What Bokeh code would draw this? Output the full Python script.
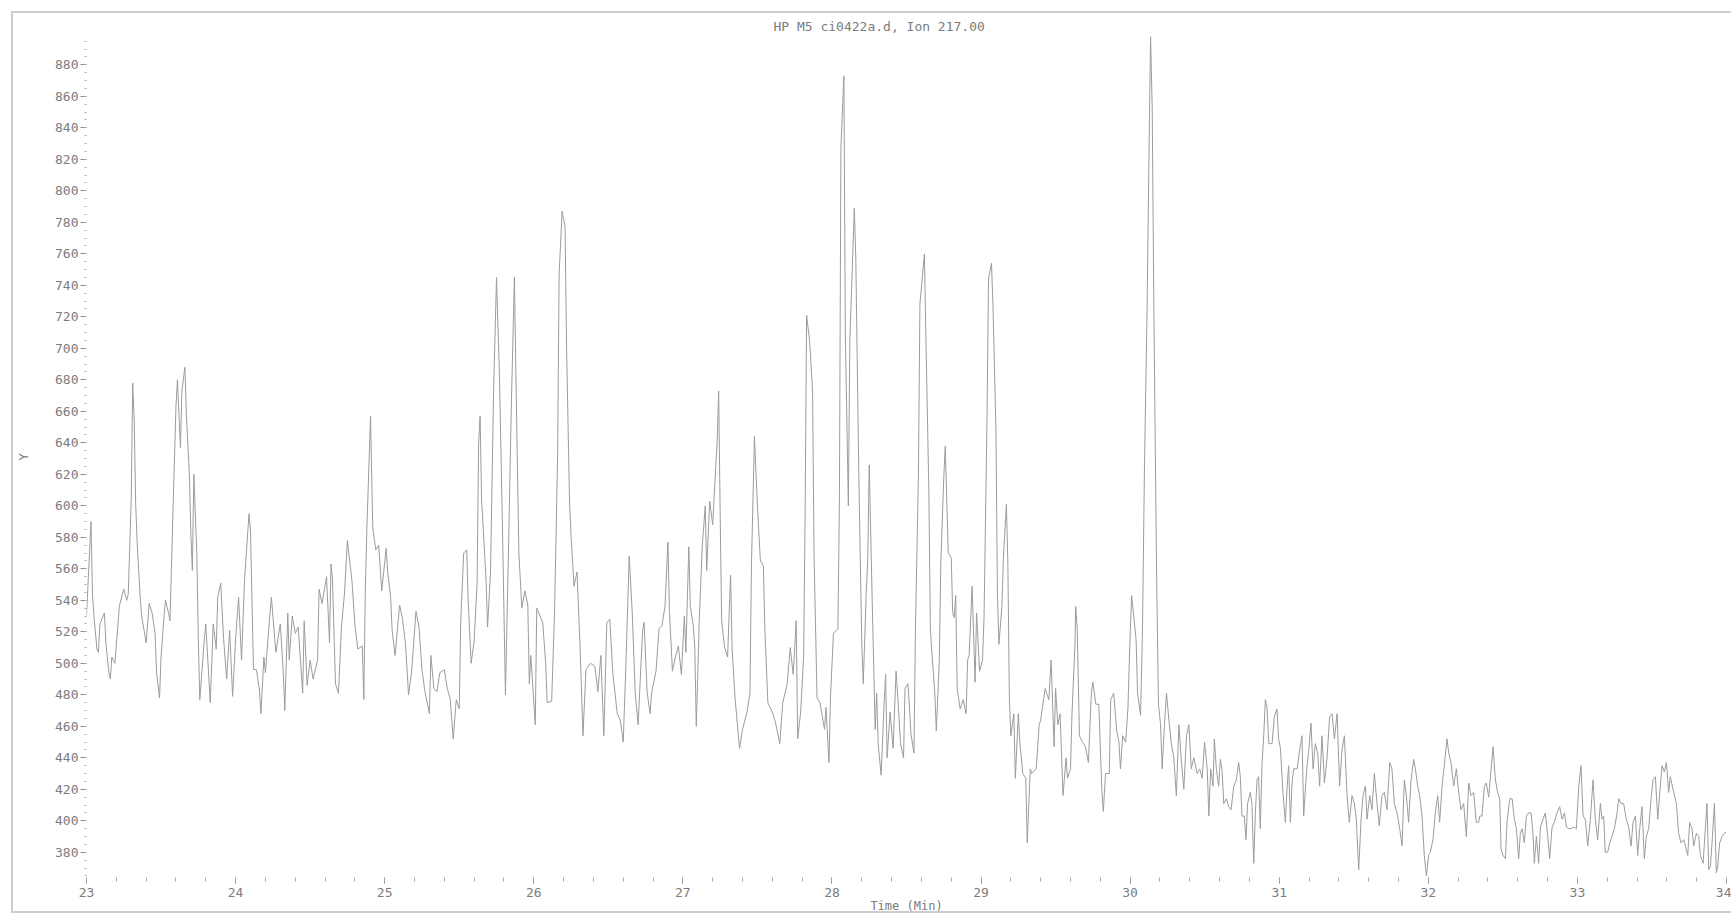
from bokeh.plotting import figure
from bokeh.models import SingleIntervalTicker, Range1d
from bokeh.embed import file_html
from bokeh.resources import INLINE

title_text = "HP M5 ci0422a.d, Ion 217.00"
x_label = "Time (Min)"
y_label = "Y"

# ---- trace (time in min, abundance) ----
t_23_25 = [
    23.00, 23.03, 23.04, 23.05, 23.07, 23.08, 23.09, 23.12, 23.13, 23.15,
    23.16, 23.17, 23.19, 23.21, 23.22, 23.24, 23.25, 23.27, 23.28, 23.30,
    23.31, 23.32, 23.33, 23.34, 23.36, 23.37, 23.40, 23.41, 23.42, 23.44,
    23.46, 23.47, 23.49, 23.50, 23.52, 23.53, 23.55, 23.56, 23.58, 23.60,
    23.61, 23.63, 23.64, 23.66, 23.67, 23.69, 23.70, 23.71, 23.72, 23.74,
    23.75, 23.76, 23.79, 23.80, 23.83, 23.85, 23.87, 23.88, 23.90, 23.92,
    23.94, 23.96, 23.98, 24.00, 24.02, 24.04, 24.06, 24.09, 24.10, 24.12,
    24.14, 24.16, 24.17, 24.19, 24.20, 24.22, 24.24, 24.27, 24.30, 24.32,
    24.33, 24.35, 24.36, 24.38, 24.40, 24.42, 24.45, 24.46, 24.48, 24.50,
    24.52, 24.55, 24.56, 24.58, 24.61, 24.63, 24.64, 24.65, 24.67, 24.69,
    24.71, 24.73, 24.75, 24.77, 24.78, 24.80, 24.82, 24.85]
v_23_25 = [
    530, 590, 544, 530, 509, 507, 525, 532, 513, 494,
    490, 504, 500, 523, 536, 544, 547, 540, 544, 604,
    678, 654, 601, 576, 542, 530, 513, 525, 538, 532,
    519, 494, 478, 504, 530, 540, 532, 527, 597, 663,
    680, 637, 673, 688, 658, 620, 582, 559, 620, 570,
    515, 477, 515, 525, 475, 525, 509, 542, 551, 515,
    490, 521, 479, 515, 542, 502, 553, 595, 584, 496,
    496, 483, 468, 504, 494, 519, 542, 507, 525, 494,
    470, 532, 502, 530, 519, 523, 481, 527, 486, 502,
    490, 502, 547, 538, 555, 513, 563, 553, 487, 481,
    523, 544, 578, 561, 553, 525, 509, 511]

t_25_27 = [
    24.86, 24.87, 24.88, 24.905, 24.92, 24.94, 24.96, 24.98, 25.01, 25.02,
    25.04, 25.05, 25.07, 25.10, 25.12, 25.14, 25.16, 25.18, 25.21, 25.23,
    25.25, 25.27, 25.30, 25.31, 25.33, 25.35, 25.37, 25.40, 25.42, 25.44,
    25.46, 25.48, 25.50, 25.51, 25.53, 25.55, 25.56, 25.58, 25.60, 25.62,
    25.63, 25.64, 25.65, 25.68, 25.69, 25.71, 25.73, 25.75, 25.77, 25.79,
    25.81, 25.83, 25.85, 25.87, 25.88, 25.90, 25.92, 25.94, 25.96, 25.97,
    25.98, 26.01, 26.02, 26.06, 26.08, 26.09, 26.12, 26.14, 26.16, 26.17,
    26.19, 26.21, 26.22, 26.24, 26.25, 26.27, 26.29, 26.31, 26.33, 26.35,
    26.38, 26.41, 26.43, 26.45, 26.47, 26.49, 26.51, 26.53, 26.56, 26.58,
    26.60, 26.62, 26.64, 26.66, 26.68, 26.70, 26.73, 26.74, 26.76, 26.78]
v_25_27 = [
    477, 546, 584, 657, 586, 572, 575, 546, 573, 558,
    542, 521, 505, 537, 528, 512, 480, 494, 533, 523,
    496, 482, 468, 505, 484, 482, 494, 496, 484, 477,
    452, 477, 471, 526, 570, 572, 540, 500, 514, 551,
    639, 657, 604, 553, 523, 558, 671, 745, 682, 586,
    480, 570, 666, 745, 685, 570, 535, 546, 537, 487,
    505, 461, 535, 526, 500, 475, 476, 535, 632, 747,
    787, 777, 701, 602, 581, 549, 558, 512, 454, 496,
    500, 498, 482, 505, 454, 526, 528, 494, 468, 464,
    450, 505, 568, 533, 482, 461, 521, 526, 482, 468]

t_27_29 = [
    26.79, 26.82, 26.84, 26.86, 26.88, 26.90, 26.91, 26.93, 26.95, 26.97,
    26.99, 27.01, 27.02, 27.04, 27.05, 27.07, 27.08, 27.09, 27.11, 27.13,
    27.15, 27.16, 27.18, 27.20, 27.21, 27.23, 27.24, 27.25, 27.26, 27.28,
    27.30, 27.32, 27.33, 27.35, 27.38, 27.40, 27.43, 27.45, 27.46, 27.48,
    27.50, 27.52, 27.54, 27.55, 27.57, 27.60, 27.62, 27.65, 27.67, 27.70,
    27.72, 27.74, 27.76, 27.77, 27.79, 27.81, 27.82, 27.83, 27.85, 27.87,
    27.88, 27.90, 27.92, 27.95, 27.96, 27.98, 27.99, 28.01, 28.04, 28.05,
    28.06, 28.08, 28.09, 28.11, 28.12, 28.15, 28.16, 28.18, 28.20, 28.21,
    28.23, 28.24, 28.25, 28.27, 28.29, 28.30, 28.31, 28.33, 28.35, 28.36,
    28.37, 28.39, 28.41, 28.43, 28.44, 28.46, 28.48, 28.49, 28.51, 28.53,
    28.55, 28.56, 28.58, 28.59, 28.62, 28.63, 28.65]
v_27_29 = [
    481, 495, 522, 524, 536, 577, 533, 495, 504, 511,
    493, 530, 507, 574, 536, 524, 510, 460, 527, 574,
    600, 559, 603, 588, 606, 641, 673, 597, 527, 510,
    504, 556, 510, 478, 446, 458, 469, 481, 562, 644,
    600, 565, 562, 522, 475, 469, 463, 449, 475, 487,
    510, 493, 527, 452, 469, 504, 594, 721, 705, 673,
    568, 478, 475, 458, 472, 437, 478, 519, 522, 603,
    827, 873, 708, 600, 705, 789, 757, 620, 513, 487,
    545, 565, 626, 539, 458, 481, 449, 429, 475, 493,
    440, 469, 446, 495, 481, 449, 440, 484, 487, 455,
    443, 522, 620, 728, 760, 708, 609]

t_29_31 = [
    28.66, 28.67, 28.69, 28.70, 28.72, 28.73, 28.75, 28.76, 28.78, 28.80,
    28.81, 28.82, 28.83, 28.84, 28.86, 28.88, 28.90, 28.91, 28.92, 28.94,
    28.96, 28.97, 28.99, 29.01, 29.02, 29.04, 29.05, 29.07, 29.08, 29.10,
    29.11, 29.12, 29.14, 29.15, 29.17, 29.18, 29.19, 29.20, 29.22, 29.23,
    29.25, 29.26, 29.28, 29.30, 29.31, 29.33, 29.34, 29.37, 29.39, 29.40,
    29.43, 29.44, 29.455, 29.47, 29.49, 29.50, 29.515, 29.53, 29.55, 29.57,
    29.58, 29.60, 29.61, 29.63, 29.635, 29.645, 29.66, 29.68, 29.70, 29.72,
    29.74, 29.75, 29.77, 29.79, 29.81, 29.82, 29.835, 29.86, 29.87, 29.89,
    29.91, 29.925, 29.935, 29.95, 29.97, 29.985, 29.998, 30.01, 30.025, 30.04,
    30.05, 30.07, 30.083, 30.096, 30.114, 30.125, 30.137, 30.148, 30.159, 30.177,
    30.19, 30.204, 30.215, 30.23, 30.244, 30.26, 30.275, 30.293, 30.31, 30.327,
    30.342, 30.36, 30.378, 30.394, 30.41, 30.427, 30.45, 30.467, 30.483, 30.499,
    30.517, 30.528, 30.54]
v_29_31 = [
    522, 507, 481, 457, 502, 563, 618, 638, 570, 567,
    532, 529, 543, 484, 471, 477, 468, 502, 505, 549,
    488, 532, 495, 502, 529, 655, 744, 754, 727, 648,
    543, 512, 536, 567, 601, 563, 477, 454, 468, 427,
    468, 450, 430, 427, 386, 433, 430, 433, 461, 464,
    484, 481, 477, 502, 447, 484, 461, 468, 416, 440,
    427, 433, 468, 512, 536, 522, 454, 450, 447, 437,
    481, 488, 474, 474, 420, 406, 430, 430, 477, 481,
    457, 450, 433, 454, 450, 471, 512, 543, 529, 515,
    481, 467, 522, 624, 727, 812, 898, 853, 727, 560,
    474, 461, 433, 461, 481, 464, 450, 440, 416, 461,
    440, 420, 454, 461, 433, 440, 430, 433, 427, 450,
    433, 403, 433]

t_31_32 = [
    30.556, 30.565, 30.578, 30.594, 30.605, 30.616, 30.628, 30.645, 30.661, 30.677,
    30.695, 30.712, 30.728, 30.739, 30.75, 30.766, 30.777, 30.788, 30.806, 30.817,
    30.829, 30.84, 30.851, 30.862, 30.873, 30.885, 30.896, 30.907, 30.918, 30.93,
    30.952, 30.967, 30.985, 30.996, 31.008, 31.025, 31.041, 31.052, 31.063, 31.075,
    31.086, 31.097, 31.12, 31.137, 31.153, 31.164, 31.182, 31.198, 31.213, 31.227,
    31.242, 31.258, 31.271, 31.287, 31.303, 31.32, 31.338, 31.354, 31.37, 31.388,
    31.405, 31.421, 31.437, 31.455, 31.47, 31.488, 31.504, 31.517, 31.533, 31.549,
    31.562, 31.578, 31.589, 31.607, 31.622, 31.638, 31.656, 31.671, 31.689, 31.705,
    31.723, 31.741, 31.756, 31.772, 31.79, 31.808, 31.824, 31.839, 31.853, 31.868,
    31.884, 31.902, 31.913, 31.929, 31.942, 31.958, 31.973, 31.987, 32.002, 32.013,
    32.031, 32.047, 32.063, 32.076, 32.092, 32.107, 32.125, 32.137, 32.152, 32.17,
    32.188, 32.204, 32.219, 32.237, 32.255, 32.271, 32.286, 32.304, 32.322, 32.338]
v_31_32 = [
    422, 452, 433, 422, 439, 433, 411, 414, 409, 407,
    422, 426, 437, 428, 403, 403, 388, 411, 418, 411,
    373, 405, 426, 428, 395, 437, 454, 477, 472, 449,
    449, 466, 471, 452, 446, 418, 399, 420, 435, 399,
    424, 433, 433, 445, 454, 403, 430, 445, 462, 433,
    449, 443, 422, 454, 424, 439, 466, 468, 452, 468,
    422, 445, 454, 416, 399, 416, 411, 401, 369, 401,
    416, 422, 401, 416, 407, 430, 411, 397, 416, 418,
    407, 437, 433, 411, 405, 395, 384, 426, 416, 399,
    426, 439, 433, 422, 416, 403, 378, 365, 378, 380,
    388, 405, 416, 399, 422, 435, 452, 443, 437, 422,
    433, 418, 407, 411, 390, 424, 416, 418, 399, 399]

t_32_34 = [
    32.345, 32.36, 32.376, 32.389, 32.405, 32.421, 32.434, 32.45, 32.465, 32.479,
    32.488, 32.501, 32.517, 32.528, 32.546, 32.562, 32.577, 32.591, 32.606, 32.617,
    32.629, 32.644, 32.658, 32.673, 32.689, 32.702, 32.711, 32.725, 32.74, 32.752,
    32.769, 32.785, 32.801, 32.814, 32.83, 32.845, 32.863, 32.881, 32.897, 32.913,
    32.926, 32.942, 32.957, 32.975, 32.993, 33.009, 33.024, 33.038, 33.053, 33.069,
    33.087, 33.105, 33.12, 33.136, 33.154, 33.165, 33.176, 33.187, 33.203, 33.217,
    33.232, 33.248, 33.266, 33.277, 33.293, 33.31, 33.328, 33.344, 33.36, 33.373,
    33.389, 33.404, 33.418, 33.433, 33.449, 33.462, 33.478, 33.494, 33.507, 33.523,
    33.539, 33.556, 33.568, 33.583, 33.597, 33.612, 33.623, 33.646, 33.664, 33.679,
    33.695, 33.713, 33.724, 33.74, 33.753, 33.769, 33.78, 33.798, 33.814, 33.825,
    33.843, 33.858, 33.869, 33.881, 33.892, 33.903, 33.919, 33.932, 33.941, 33.954,
    33.97, 33.986, 34.0]
v_32_34 = [
    403, 403, 422, 424, 415, 433, 447, 426, 418, 414,
    382, 378, 376, 399, 414, 414, 401, 395, 376, 392,
    395, 386, 403, 405, 405, 392, 373, 390, 373, 396,
    401, 405, 390, 376, 396, 399, 405, 409, 401, 405,
    396, 395, 395, 396, 395, 422, 435, 403, 401, 384,
    401, 426, 401, 388, 411, 401, 403, 380, 380, 386,
    390, 395, 405, 414, 411, 411, 401, 396, 384, 399,
    403, 378, 395, 409, 376, 390, 395, 414, 426, 428,
    401, 422, 435, 431, 437, 418, 428, 418, 411, 392,
    386, 388, 384, 378, 399, 395, 384, 392, 390, 378,
    373, 395, 411, 369, 371, 386, 411, 367, 371, 386,
    390, 392, 393]

x_start, x_end = 23, 34
y_start, y_end = 364, 898

time_min, abundance = [], []
for ts, vs in [(t_23_25, v_23_25), (t_25_27, v_25_27), (t_27_29, v_27_29),
               (t_29_31, v_29_31), (t_31_32, v_31_32), (t_32_34, v_32_34)]:
    n = min(len(ts), len(vs))
    time_min += ts[:n]
    abundance += vs[:n]

TEXT = "#7c7c7c"
FONT = "DejaVu Sans Mono"

p = figure(width=1720, height=902, output_backend="svg", toolbar_location=None,
           x_range=Range1d(x_start, x_end), y_range=Range1d(y_start, y_end),
           min_border_left=73, min_border_right=7, min_border_top=22,
           min_border_bottom=37, title=title_text)
p.margin = (11, 0, 0, 11)
p.styles = {"border-left": "2px solid #cdcdcd", "border-top": "2px solid #cdcdcd",
            "border-bottom": "2px solid #cdcdcd"}
p.outline_line_color = None
p.background_fill_color = "white"
p.border_fill_color = "white"
p.grid.visible = False

p.title.text_font = FONT
p.title.text_font_size = "13px"
p.title.text_font_style = "normal"
p.title.text_color = TEXT
p.title.align = "left"
p.title.offset = 687
p.title.standoff = 6

p.line(time_min, abundance, line_color="#9c9c9c", line_width=1)

p.xaxis.ticker = SingleIntervalTicker(interval=1, num_minor_ticks=5)
p.yaxis.ticker = SingleIntervalTicker(interval=20, num_minor_ticks=4)

for ax in (p.xaxis[0], p.yaxis[0]):
    ax.axis_line_color = None
    ax.major_tick_line_color = "#8c8c8c"
    ax.minor_tick_line_color = "#a8a8a8"
    ax.major_tick_in = 0
    ax.minor_tick_in = 0
    ax.major_label_text_font = FONT
    ax.major_label_text_font_size = "13px"
    ax.major_label_text_color = TEXT
    ax.axis_label_text_font = FONT
    ax.axis_label_text_font_size = "12px"
    ax.axis_label_text_font_style = "normal"
    ax.axis_label_text_color = TEXT

p.xaxis.axis_label = x_label
p.xaxis.major_tick_out = 6
p.xaxis.minor_tick_out = 4
p.xaxis.major_label_standoff = 4
p.xaxis.axis_label_standoff = -1

p.yaxis.axis_label = y_label
p.yaxis.major_tick_out = 6
p.yaxis.minor_tick_out = 2
p.yaxis.major_label_standoff = 2
p.yaxis.axis_label_standoff = 21

open("out.html", "w").write(file_html(p, INLINE))
